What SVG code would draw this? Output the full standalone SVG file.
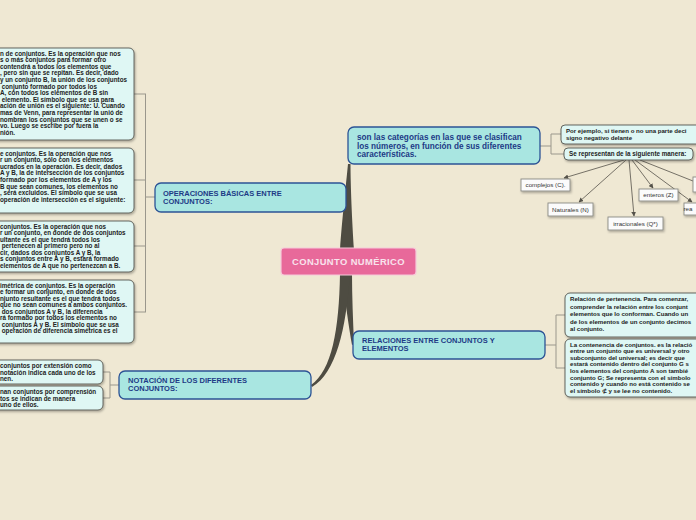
<svg xmlns="http://www.w3.org/2000/svg" width="696" height="520" viewBox="0 0 696 520">
<defs>
<filter id="sh" x="-10%" y="-10%" width="130%" height="140%"><feDropShadow dx="1" dy="1.5" stdDeviation="0.8" flood-color="#000" flood-opacity="0.3"/></filter>
<marker id="ah" viewBox="0 0 8 8" refX="7" refY="4" markerWidth="6" markerHeight="6" orient="auto"><path d="M0,0 L8,4 L0,8 z" fill="#55524a"/></marker>
<style>
.main{fill:#a9e6e1;stroke:#2c5395;stroke-width:1.3}
.mt{font-family:"Liberation Sans",Arial,sans-serif;font-weight:bold;font-size:7.5px;fill:#1d3a86}
.mt2{font-family:"Liberation Sans",Arial,sans-serif;font-weight:bold;font-size:8.2px;fill:#1d3a86}
.sub{fill:#dff7f4;stroke:#55554e;stroke-width:0.9}
.st{font-family:"Liberation Sans",Arial,sans-serif;font-weight:bold;font-size:6.3px;fill:#222}
.sr{font-family:"Liberation Sans",Arial,sans-serif;font-weight:bold;font-size:6.1px;fill:#222}
.sm{fill:#fbfbfb;stroke:#8a8a84;stroke-width:0.9}
.smt{font-family:"Liberation Sans",Arial,sans-serif;font-size:6.2px;fill:#333;text-anchor:middle}
.el{fill:none;stroke:#9a978c;stroke-width:1}
.ar{fill:none;stroke:#55524a;stroke-width:0.8}
.trunk{fill:#4e4c42}
</style>
</defs>
<rect width="696" height="520" fill="#efe8d3"/>
<g id="connectors">
<path class="trunk" d="M340,250 C342,220 346,185 348,164 L350.5,164 C350.5,185 352,220 354,250 Z"/>
<path class="trunk" d="M341,250 C343,225 345,206 345,198 L347,198 C348,210 350,230 352,250 Z"/>
<path class="trunk" d="M342,274 C345,300 349,328 352,345 L354,344 C353,320 352,296 352,274 Z"/>
<path class="trunk" d="M340,274 C339,330 332,370 311,385 L312,387 C336,373 346,330 350,274 Z"/>
<path class="el" d="M146,197 H155 M145.5,94 V312 M134,94 H146 M134,180 H146 M134,246 H146 M134,312 H146"/>
<path class="el" d="M110,385 H119 M110,372 V398 M103,372 H110 M103,398 H110"/>
<path class="el" d="M540,146 H551 M551,134 V154 M551,134 H561 M551,154 H564"/>
<path class="el" d="M545,345 H556 M556,315 V368 M556,315 H565 M556,368 H565"/>
<line class="ar" x1="624" y1="160" x2="564" y2="178" marker-end="url(#ah)"/>
<line class="ar" x1="626" y1="160" x2="579" y2="202" marker-end="url(#ah)"/>
<line class="ar" x1="629" y1="160" x2="634" y2="216" marker-end="url(#ah)"/>
<line class="ar" x1="632" y1="160" x2="653" y2="188" marker-end="url(#ah)"/>
<line class="ar" x1="635" y1="160" x2="692" y2="202" marker-end="url(#ah)"/>
<line class="ar" x1="640" y1="160" x2="693" y2="181"/>
</g>
<g id="center">
<rect x="281" y="248" width="135" height="27" rx="3" fill="#e8699a" stroke="#f6c9d9" stroke-width="1.2"/>
<text x="348.5" y="264.5" text-anchor="middle" font-family="'Liberation Sans',Arial,sans-serif" font-weight="bold" font-size="9.4" letter-spacing="0.4" fill="#f8e3ec">CONJUNTO NUMÉRICO</text>
</g>
<g id="n1">
<rect class="main" x="348" y="127" width="192" height="37" rx="6"/>
<text class="mt2"><tspan x="357" y="140">son las categorías en las que se clasifican</tspan><tspan x="357" y="148.5">los números, en función de sus diferentes</tspan><tspan x="357" y="157">características.</tspan></text>
</g>
<g id="n2">
<rect class="main" x="155" y="183" width="191" height="29" rx="6"/>
<text class="mt"><tspan x="163" y="196">OPERACIONES BÁSICAS ENTRE</tspan><tspan x="163" y="204">CONJUNTOS:</tspan></text>
</g>
<g id="n3">
<rect class="main" x="353" y="331" width="192" height="28" rx="6"/>
<text class="mt"><tspan x="362" y="342.5">RELACIONES ENTRE CONJUNTOS Y</tspan><tspan x="362" y="351">ELEMENTOS</tspan></text>
</g>
<g id="n4">
<rect class="main" x="119" y="371" width="192" height="28" rx="6"/>
<text class="mt"><tspan x="128" y="383">NOTACIÓN DE LOS DIFERENTES</tspan><tspan x="128" y="391">CONJUNTOS:</tspan></text>
</g>
<g id="union">
<rect class="sub" filter="url(#sh)" x="-20" y="48" width="154" height="92" rx="5"/>
<text class="st"><tspan x="0" y="55.5">n de conjuntos. Es la operación que nos</tspan><tspan x="0" y="62.1">s o más conjuntos para formar otro</tspan><tspan x="0" y="68.7">contendrá a todos los elementos que</tspan><tspan x="0" y="75.3">, pero sin que se repitan. Es decir, dado</tspan><tspan x="0" y="81.9">y un conjunto B, la unión de los conjuntos</tspan><tspan x="0" y="88.5"> conjunto formado por todos los</tspan><tspan x="0" y="95.1">A, con todos los elementos de B sin</tspan><tspan x="0" y="101.7"> elemento. El símbolo que se usa para</tspan><tspan x="0" y="108.3">ación de unión es el siguiente: U. Cuando</tspan><tspan x="0" y="114.9">mas de Venn, para representar la unió de</tspan><tspan x="0" y="121.5">nombran los conjuntos que se unen o se</tspan><tspan x="0" y="128.1">vo. Luego se escribe por fuera la</tspan><tspan x="0" y="134.7">nión.</tspan></text>
</g>
<g id="interseccion">
<rect class="sub" filter="url(#sh)" x="-20" y="148" width="154" height="65" rx="5"/>
<text class="st"><tspan x="0" y="155.5">e conjuntos. Es la operación que nos</tspan><tspan x="0" y="162.1">r un conjunto, sólo con los elementos</tspan><tspan x="0" y="168.7">ucrados en la operación. Es decir, dados</tspan><tspan x="0" y="175.3">A y B, la de intersección de los conjuntos</tspan><tspan x="0" y="181.9">formado por los elementos de A y los</tspan><tspan x="0" y="188.5">B que sean comunes, los elementos no</tspan><tspan x="0" y="195.1">, será excluidos. El símbolo que se usa</tspan><tspan x="0" y="201.7">operación de intersección es el siguiente:</tspan></text>
</g>
<g id="diferencia">
<rect class="sub" filter="url(#sh)" x="-20" y="221" width="154" height="51" rx="5"/>
<text class="st"><tspan x="0" y="228.5">conjuntos. Es la operación que nos</tspan><tspan x="0" y="235">r un conjunto, en donde de dos conjuntos</tspan><tspan x="0" y="241.5">ultante es el que tendrá todos los</tspan><tspan x="0" y="248"> pertenecen al primero pero no al</tspan><tspan x="0" y="254.5">cir, dados dos conjuntos A y B, la</tspan><tspan x="0" y="261">s conjuntos entre A y B, estará formado</tspan><tspan x="0" y="267.5">elementos de A que no pertenezcan a B.</tspan></text>
</g>
<g id="simetrica">
<rect class="sub" filter="url(#sh)" x="-20" y="280" width="154" height="63" rx="5"/>
<text class="st"><tspan x="0" y="287.5">imétrica de conjuntos. Es la operación</tspan><tspan x="0" y="294">e formar un conjunto, en donde de dos</tspan><tspan x="0" y="300.5">njunto resultante es el que tendrá todos</tspan><tspan x="0" y="307">que no sean comunes a ambos conjuntos.</tspan><tspan x="0" y="313.5"> dos conjuntos A y B, la diferencia</tspan><tspan x="0" y="320">rá formado por todos los elementos no</tspan><tspan x="0" y="326.5"> conjuntos A y B. El símbolo que se usa</tspan><tspan x="0" y="333"> operación de diferencia simétrica es el</tspan></text>
</g>
<g id="extension">
<rect class="sub" filter="url(#sh)" x="-20" y="360" width="123" height="24" rx="5"/>
<text class="st"><tspan x="0" y="368"> conjuntos por extensión como</tspan><tspan x="0" y="374.5">notación indica cada uno de los</tspan><tspan x="0" y="381">nen.</tspan></text>
</g>
<g id="comprension">
<rect class="sub" filter="url(#sh)" x="-20" y="386" width="123" height="24" rx="5"/>
<text class="st"><tspan x="0" y="394">nan conjuntos por comprensión</tspan><tspan x="0" y="400.5">tos se indican de manera</tspan><tspan x="0" y="407">uno de ellos.</tspan></text>
</g>
<g id="ejemplo">
<rect class="sub" filter="url(#sh)" x="561" y="125" width="150" height="19" rx="4"/>
<text class="sr"><tspan x="566" y="133">Por ejemplo, si tienen o no una parte deci</tspan><tspan x="566" y="140">signo negativo delante</tspan></text>
</g>
<g id="representan">
<rect class="sub" filter="url(#sh)" x="564" y="148" width="129" height="12" rx="4"/>
<text class="st" x="569" y="156">Se representan de la siguiente manera:</text>
</g>
<g id="complejos">
<rect class="sm" filter="url(#sh)" x="521" y="179" width="49" height="12"/>
<text class="smt" x="545.5" y="187">complejos (C).</text>
</g>
<g id="naturales">
<rect class="sm" filter="url(#sh)" x="548" y="203" width="45" height="13"/>
<text class="smt" x="570.5" y="211.5">Naturales (N)</text>
</g>
<g id="irracionales">
<rect class="sm" filter="url(#sh)" x="608" y="217" width="55" height="13"/>
<text class="smt" x="635.5" y="225.5">irracionales (Q*)</text>
</g>
<g id="enteros">
<rect class="sm" filter="url(#sh)" x="639" y="189" width="39" height="12"/>
<text class="smt" x="658.5" y="197">enteros (Z)</text>
</g>
<g id="reales">
<rect class="sm" filter="url(#sh)" x="684" y="203" width="30" height="12"/>
<text class="smt" x="688" y="211" text-anchor="start">rea</text>
</g>
<g id="otro">
<rect class="sm" filter="url(#sh)" x="693" y="177" width="20" height="15"/>
</g>
<g id="pertenencia">
<rect class="sub" filter="url(#sh)" x="565" y="293" width="150" height="44" rx="5"/>
<text class="sr"><tspan x="570" y="301">Relación de pertenencia. Para comenzar,</tspan><tspan x="570" y="308.5">comprender la relación entre los conjunt</tspan><tspan x="570" y="316">elementos que lo conforman.  Cuando un</tspan><tspan x="570" y="323.5">de los elementos de un conjunto decimos</tspan><tspan x="570" y="331">al conjunto.</tspan></text>
</g>
<g id="contenencia">
<rect class="sub" filter="url(#sh)" x="565" y="339" width="150" height="58" rx="5"/>
<text class="sr"><tspan x="570" y="346.5">La contenencia de conjuntos. es la relació</tspan><tspan x="570" y="353.1">entre un conjunto que es universal y otro</tspan><tspan x="570" y="359.7">subconjunto del universal; es decir que</tspan><tspan x="570" y="366.3">estará contenido dentro del conjunto G s</tspan><tspan x="570" y="372.9">los elementos del conjunto A son tambié</tspan><tspan x="570" y="379.5">conjunto G; Se representa con el símbolo</tspan><tspan x="570" y="386.1">contenido y cuando no está contenido se</tspan><tspan x="570" y="392.7">el símbolo ⊄ y se lee no contenido.</tspan></text>
</g>
</svg>
